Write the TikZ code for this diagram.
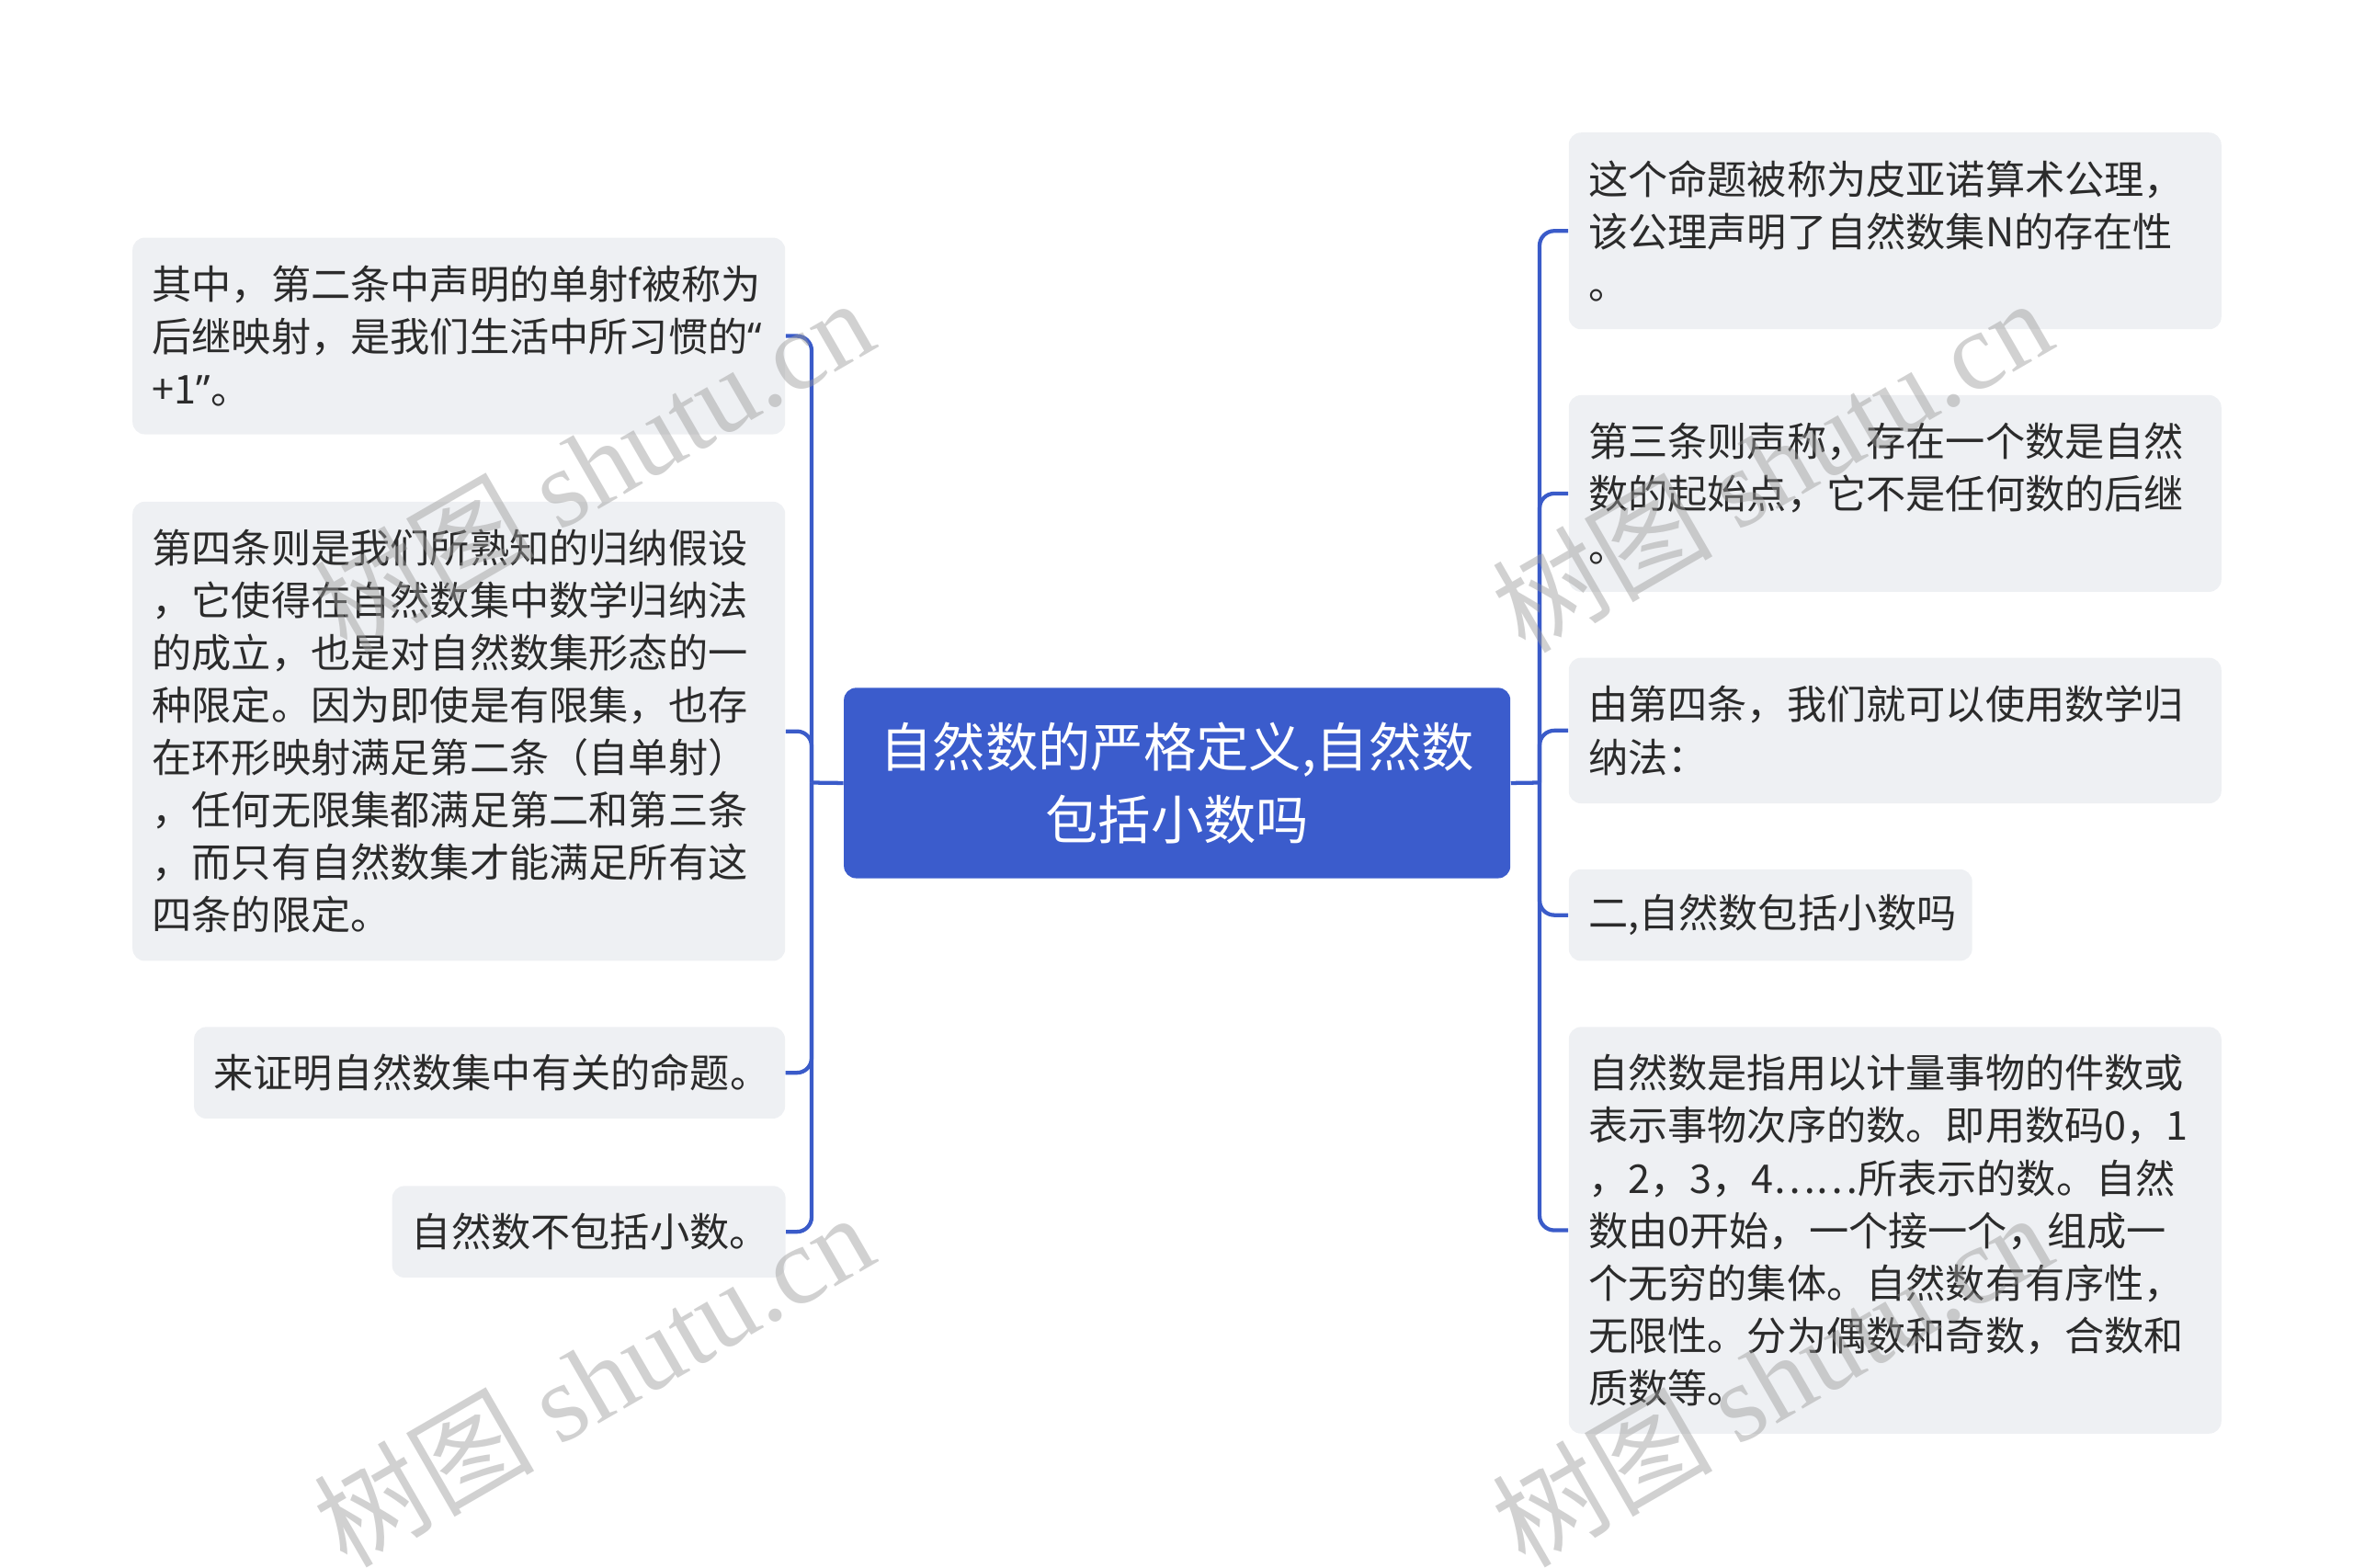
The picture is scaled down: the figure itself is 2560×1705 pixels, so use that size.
\documentclass[tikz,border=0pt]{standalone}
\usepackage{fontspec}
\setmainfont{Noto Sans CJK SC}
\newfontfamily\wmserif{Liberation Serif}
\newfontfamily\wmcjk{Noto Sans CJK SC}
\newfontfamily\latq{Noto Sans}
\definecolor{linec}{HTML}{3A5BC9}
\definecolor{rootc}{HTML}{3B5CCC}
\definecolor{boxc}{HTML}{EEF0F3}
\definecolor{txtc}{HTML}{2B2B2B}
\definecolor{wmc}{HTML}{9A9A9A}
\begin{document}
\begin{tikzpicture}[x=0.375pt,y=-0.375pt,
  leaf/.style n args={3}{anchor=north west, fill=boxc, draw=none, rounded corners=5pt,
    align=left, text=txtc, inner xsep=8pt, inner ysep=0pt,
    minimum width=#1, text width=#2, minimum height=#3,
    font=\fontsize{16.2pt}{21.4pt}\selectfont},
  rootbox/.style={anchor=north west, fill=rootc, rounded corners=5pt, align=center,
    text=white, minimum width=271.9pt, minimum height=77.7pt, inner sep=0pt,
    font=\fontsize{21.5pt}{29.4pt}\selectfont},
  conn/.style={draw=linec, line width=1.6pt, rounded corners=6pt},
  wmark/.style={text=wmc, opacity=0.45, rotate=30, inner sep=0pt}]
\useasboundingbox (0,0) rectangle (2560,1705);

\node[rootbox] (root) at (917.6,747.8) {自然数的严格定义,自然数\\包括小数吗};

\node[leaf={266.25pt}{250.25pt}{80.25pt}] (l1) at (143.7,258)
  {其中，第二条中声明的单射f被称为\\后继映射，是我们生活中所习惯的{\latq “}\\+1{\latq ”}。};
\node[leaf={266.25pt}{250.25pt}{187.35pt}] (l2) at (143.7,545.3)
  {第四条则是我们所熟知的归纳假设\\，它使得在自然数集中数学归纳法\\的成立，也是对自然数集形态的一\\种限定。因为即使是有限集，也存\\在环形映射满足第二条（自单射）\\，任何无限集都满足第二和第三条\\，而只有自然数集才能满足所有这\\四条的限定。};
\node[leaf={241.1pt}{225.1pt}{37.35pt}] (l3) at (210.6,1116.8)
  {来证明自然数集中有关的命题。};
\node[leaf={160.5pt}{144.5pt}{37.35pt}] (l4) at (426.1,1289.8)
  {自然数不包括小数。};

\node[leaf={266.25pt}{250.25pt}{80.25pt}] (r1) at (1706.2,143.7)
  {这个命题被称为皮亚诺算术公理，\\该公理声明了自然数集N的存在性\\。};
\node[leaf={266.25pt}{250.25pt}{80.25pt}] (r2) at (1706.2,429.4)
  {第三条则声称，存在一个数是自然\\数的起始点，它不是任何数的后继\\。};
\node[leaf={266.25pt}{250.25pt}{59.4pt}] (r3) at (1706.2,715.1)
  {由第四条，我们就可以使用数学归\\纳法：};
\node[leaf={164.6pt}{148.6pt}{37.35pt}] (r4) at (1706.2,945.3)
  {二,自然数包括小数吗};
\node[leaf={266.25pt}{250.25pt}{165.9pt}] (r5) at (1706.2,1116.8)
  {自然数是指用以计量事物的件数或\\表示事物次序的数。即用数码0，1\\，2，3，4……所表示的数。自然\\数由0开始，一个接一个，组成一\\个无穷的集体。自然数有有序性，\\无限性。分为偶数和奇数，合数和\\质数等。};

\coordinate (lj) at (883,851.5);
\coordinate (rj) at (1675,851.5);
\draw[conn] (root.west) -- (lj);
\draw[conn] (root.east) -- (rj);
\foreach \n in {l1,l2,l3,l4} \draw[conn] (lj) |- (\n.east);
\foreach \n in {r1,r2,r3,r4,r5} \draw[conn] (rj) |- (\n.west);

\node[wmark] (w1) at (645,505) {\fontsize{45pt}{45pt}\wmcjk 树图 \wmserif shutu.cn};
\node[wmark] (w2) at (645,1500) {\fontsize{45pt}{45pt}\wmcjk 树图 \wmserif shutu.cn};
\node[wmark] (w3) at (1927,505) {\fontsize{45pt}{45pt}\wmcjk 树图 \wmserif shutu.cn};
\node[wmark] (w4) at (1927,1500) {\fontsize{45pt}{45pt}\wmcjk 树图 \wmserif shutu.cn};
\end{tikzpicture}
\end{document}
